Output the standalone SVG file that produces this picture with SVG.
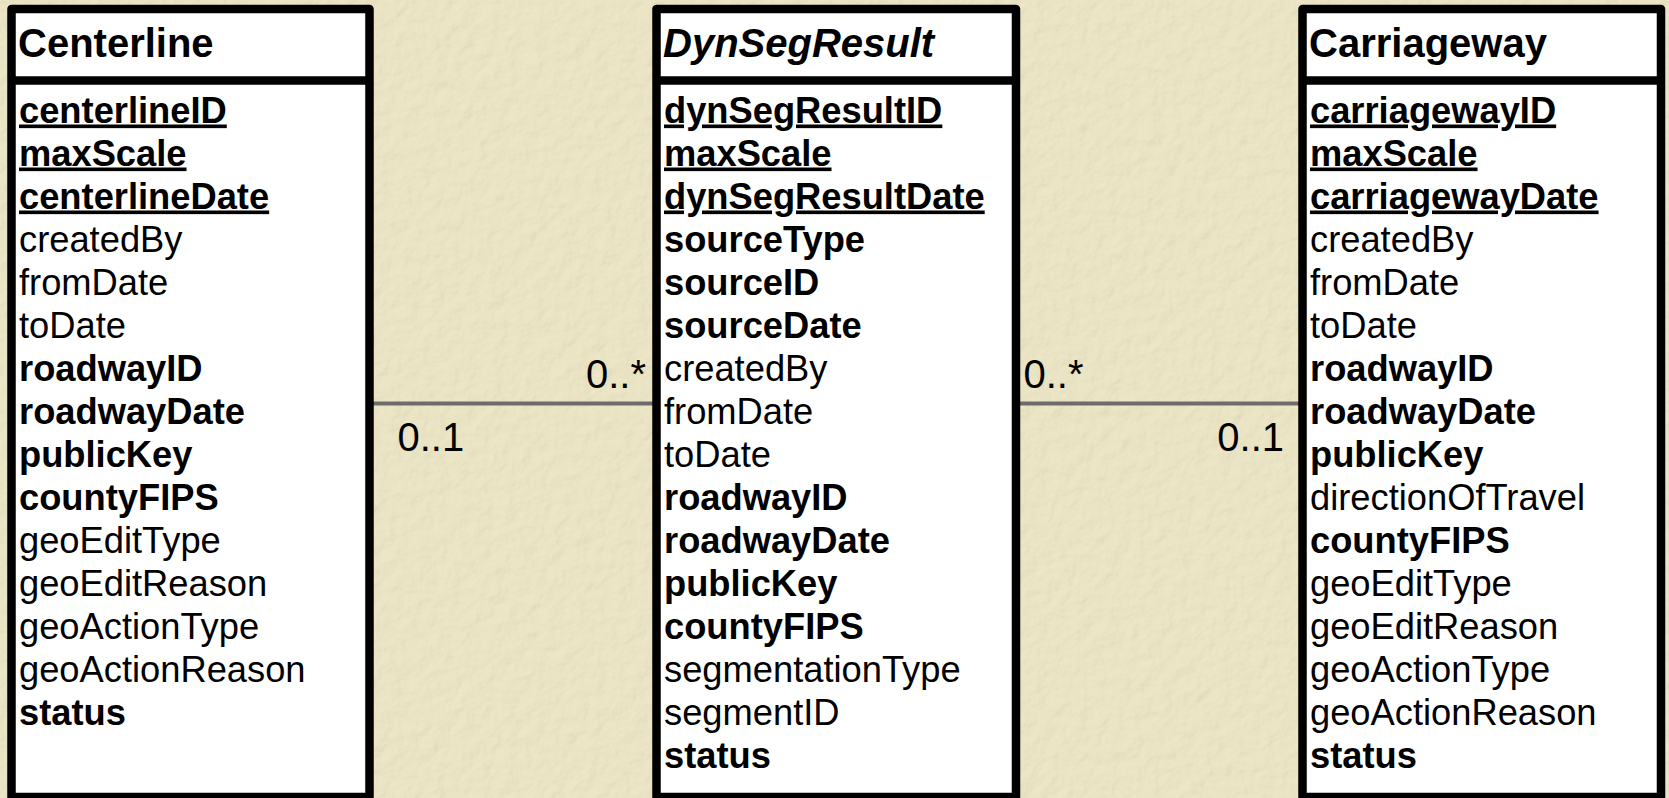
<svg xmlns="http://www.w3.org/2000/svg" width="1669" height="798" viewBox="0 0 1669 798">
  <defs>
    <filter id="paper" x="0" y="0" width="100%" height="100%" filterUnits="userSpaceOnUse">
      <feTurbulence type="fractalNoise" baseFrequency="0.07" numOctaves="3" seed="7" result="noise"/>
      <feDiffuseLighting in="noise" lighting-color="#ede7c7" surfaceScale="1.0" result="lit">
        <feDistantLight azimuth="225" elevation="75"/>
      </feDiffuseLighting>
    </filter>
    <style>
      .box { fill: #ffffff; stroke: #000000; stroke-width: 8.5; stroke-linejoin: round; }
      .sep { stroke: #000000; stroke-width: 8.5; }
      .title { font-family: "Liberation Sans", Arial, sans-serif; font-size: 40px; font-weight: bold; fill: #000; }
      .attr { font-family: "Liberation Sans", Arial, sans-serif; font-size: 36.3px; fill: #000; }
      .b { font-weight: bold; }
      .u { text-decoration: underline; font-weight: bold; }
      .conn { stroke: #6c6c6c; stroke-width: 4; stroke-linecap: round; fill: none; }
      .mult { font-family: "Liberation Sans", Arial, sans-serif; font-size: 40px; fill: #000; }
    </style>
  </defs>

  <rect x="0" y="0" width="1669" height="798" fill="#e7e1c0"/>
  <rect x="0" y="0" width="1669" height="798" filter="url(#paper)"/>

  <g id="connectors">
    <line class="conn" x1="368" y1="403.5" x2="658" y2="403.5"/>
    <line class="conn" x1="1014" y1="403.5" x2="1304" y2="403.5"/>
    <text class="mult" x="646" y="388" text-anchor="end">0..*</text>
    <text class="mult" x="397.5" y="451">0..1</text>
    <text class="mult" x="1023.5" y="388">0..*</text>
    <text class="mult" x="1284" y="451" text-anchor="end">0..1</text>
  </g>

  <g id="Centerline">
    <rect class="box" x="11.5" y="9" width="358" height="788"/>
    <line class="sep" x1="11.5" y1="80.5" x2="369.5" y2="80.5"/>
    <text class="title" x="18" y="56.5">Centerline</text>
    <g class="attr">
      <text x="19" y="122.5" class="u">centerlineID</text>
      <text x="19" y="165.5" class="u">maxScale</text>
      <text x="19" y="208.5" class="u">centerlineDate</text>
      <text x="19" y="251.5">createdBy</text>
      <text x="19" y="294.5">fromDate</text>
      <text x="19" y="337.5">toDate</text>
      <text x="19" y="380.5" class="b">roadwayID</text>
      <text x="19" y="423.5" class="b">roadwayDate</text>
      <text x="19" y="466.5" class="b">publicKey</text>
      <text x="19" y="509.5" class="b">countyFIPS</text>
      <text x="19" y="552.5">geoEditType</text>
      <text x="19" y="595.5">geoEditReason</text>
      <text x="19" y="638.5">geoActionType</text>
      <text x="19" y="681.5">geoActionReason</text>
      <text x="19" y="724.5" class="b">status</text>
    </g>
  </g>

  <g id="DynSegResult">
    <rect class="box" x="656.5" y="9" width="359.5" height="788"/>
    <line class="sep" x1="656.5" y1="80.5" x2="1016" y2="80.5"/>
    <text class="title" x="663" y="56.5" font-style="italic">DynSegResult</text>
    <g class="attr">
      <text x="664" y="122.5" class="u">dynSegResultID</text>
      <text x="664" y="165.5" class="u">maxScale</text>
      <text x="664" y="208.5" class="u">dynSegResultDate</text>
      <text x="664" y="251.5" class="b">sourceType</text>
      <text x="664" y="294.5" class="b">sourceID</text>
      <text x="664" y="337.5" class="b">sourceDate</text>
      <text x="664" y="380.5">createdBy</text>
      <text x="664" y="423.5">fromDate</text>
      <text x="664" y="466.5">toDate</text>
      <text x="664" y="509.5" class="b">roadwayID</text>
      <text x="664" y="552.5" class="b">roadwayDate</text>
      <text x="664" y="595.5" class="b">publicKey</text>
      <text x="664" y="638.5" class="b">countyFIPS</text>
      <text x="664" y="681.5">segmentationType</text>
      <text x="664" y="724.5">segmentID</text>
      <text x="664" y="767.5" class="b">status</text>
    </g>
  </g>

  <g id="Carriageway">
    <rect class="box" x="1302.5" y="9" width="358.5" height="788"/>
    <line class="sep" x1="1302.5" y1="80.5" x2="1661" y2="80.5"/>
    <text class="title" x="1309" y="56.5">Carriageway</text>
    <g class="attr">
      <text x="1310" y="122.5" class="u">carriagewayID</text>
      <text x="1310" y="165.5" class="u">maxScale</text>
      <text x="1310" y="208.5" class="u">carriagewayDate</text>
      <text x="1310" y="251.5">createdBy</text>
      <text x="1310" y="294.5">fromDate</text>
      <text x="1310" y="337.5">toDate</text>
      <text x="1310" y="380.5" class="b">roadwayID</text>
      <text x="1310" y="423.5" class="b">roadwayDate</text>
      <text x="1310" y="466.5" class="b">publicKey</text>
      <text x="1310" y="509.5">directionOfTravel</text>
      <text x="1310" y="552.5" class="b">countyFIPS</text>
      <text x="1310" y="595.5">geoEditType</text>
      <text x="1310" y="638.5">geoEditReason</text>
      <text x="1310" y="681.5">geoActionType</text>
      <text x="1310" y="724.5">geoActionReason</text>
      <text x="1310" y="767.5" class="b">status</text>
    </g>
  </g>
</svg>
